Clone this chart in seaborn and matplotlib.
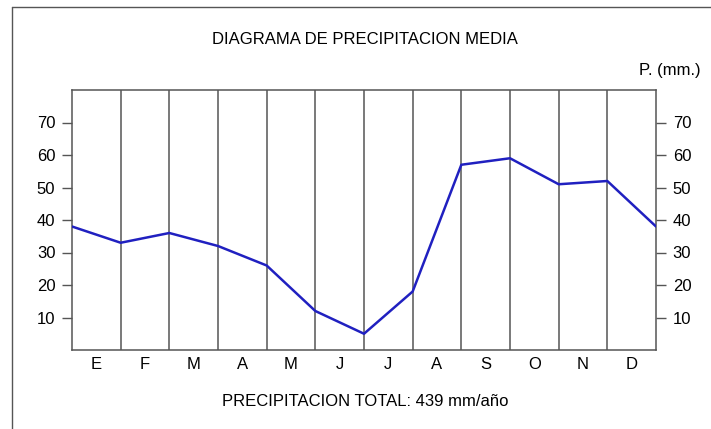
import numpy as np
import pandas as pd
import seaborn as sns
import matplotlib.pyplot as plt
from matplotlib.lines import Line2D

months = ['E', 'F', 'M', 'A', 'M', 'J', 'J', 'A', 'S', 'O', 'N', 'D']
# precipitation read at the month boundaries (13 points, first = last)
precip = [38, 33, 36, 32, 26, 12, 5, 18, 57, 59, 51, 52, 38]
yticks = [10, 20, 30, 40, 50, 60, 70]

df = pd.DataFrame({'x': np.arange(len(precip)), 'p': precip})

sns.set_style("white")
plt.rcParams['font.family'] = ['Liberation Sans', 'DejaVu Sans']
plt.rcParams['text.color'] = 'black'
plt.rcParams['xtick.color'] = 'black'
plt.rcParams['ytick.color'] = 'black'

fig = plt.figure(figsize=(7.11, 4.29), dpi=100)
ax = fig.add_axes([72/711, 1 - 350/429, (656 - 72)/711, (350 - 90)/429])

# vertical month dividers
for b in range(1, 12):
    ax.axvline(b, color='#555555', lw=1.1, zorder=1)

sns.lineplot(data=df, x='x', y='p', ax=ax, color='#2020c0', lw=1.8, zorder=3)

ax.set_xlim(0, 12)
ax.set_ylim(0, 80)
ax.set_xticks([])
ax.set_xticks(np.arange(12) + 0.5, minor=True)
ax.set_xticklabels(months, minor=True, fontsize=12)
ax.tick_params(axis='x', which='minor', length=0, pad=5)
ax.set_yticks(yticks)
ax.set_yticklabels([str(v) for v in yticks], fontsize=12)
ax.tick_params(axis='y', which='major', length=7, width=1, color='#555555',
               left=True, right=True, labelleft=True, labelright=True, pad=5)
ax.set_xlabel('')
ax.set_ylabel('')
for s in ax.spines.values():
    s.set_color('#555555')
    s.set_linewidth(1.1)

fig.text(365/711, 1 - 40/429, 'DIAGRAMA DE PRECIPITACION MEDIA', ha='center', va='center', fontsize=12)
fig.text(701/711, 1 - 70/429, 'P. (mm.)', ha='right', va='center', fontsize=12)
fig.text(365/711, 1 - 402/429, 'PRECIPITACION TOTAL: 439 mm/año', ha='center', va='center', fontsize=12)

# outer frame lines (top and left)
fig.add_artist(Line2D([12/711, 1], [1 - 7/429, 1 - 7/429], color='#555555', lw=1, transform=fig.transFigure))
fig.add_artist(Line2D([12/711, 12/711], [0, 1 - 7/429], color='#555555', lw=1, transform=fig.transFigure))

fig.savefig('out.png', dpi=100)
